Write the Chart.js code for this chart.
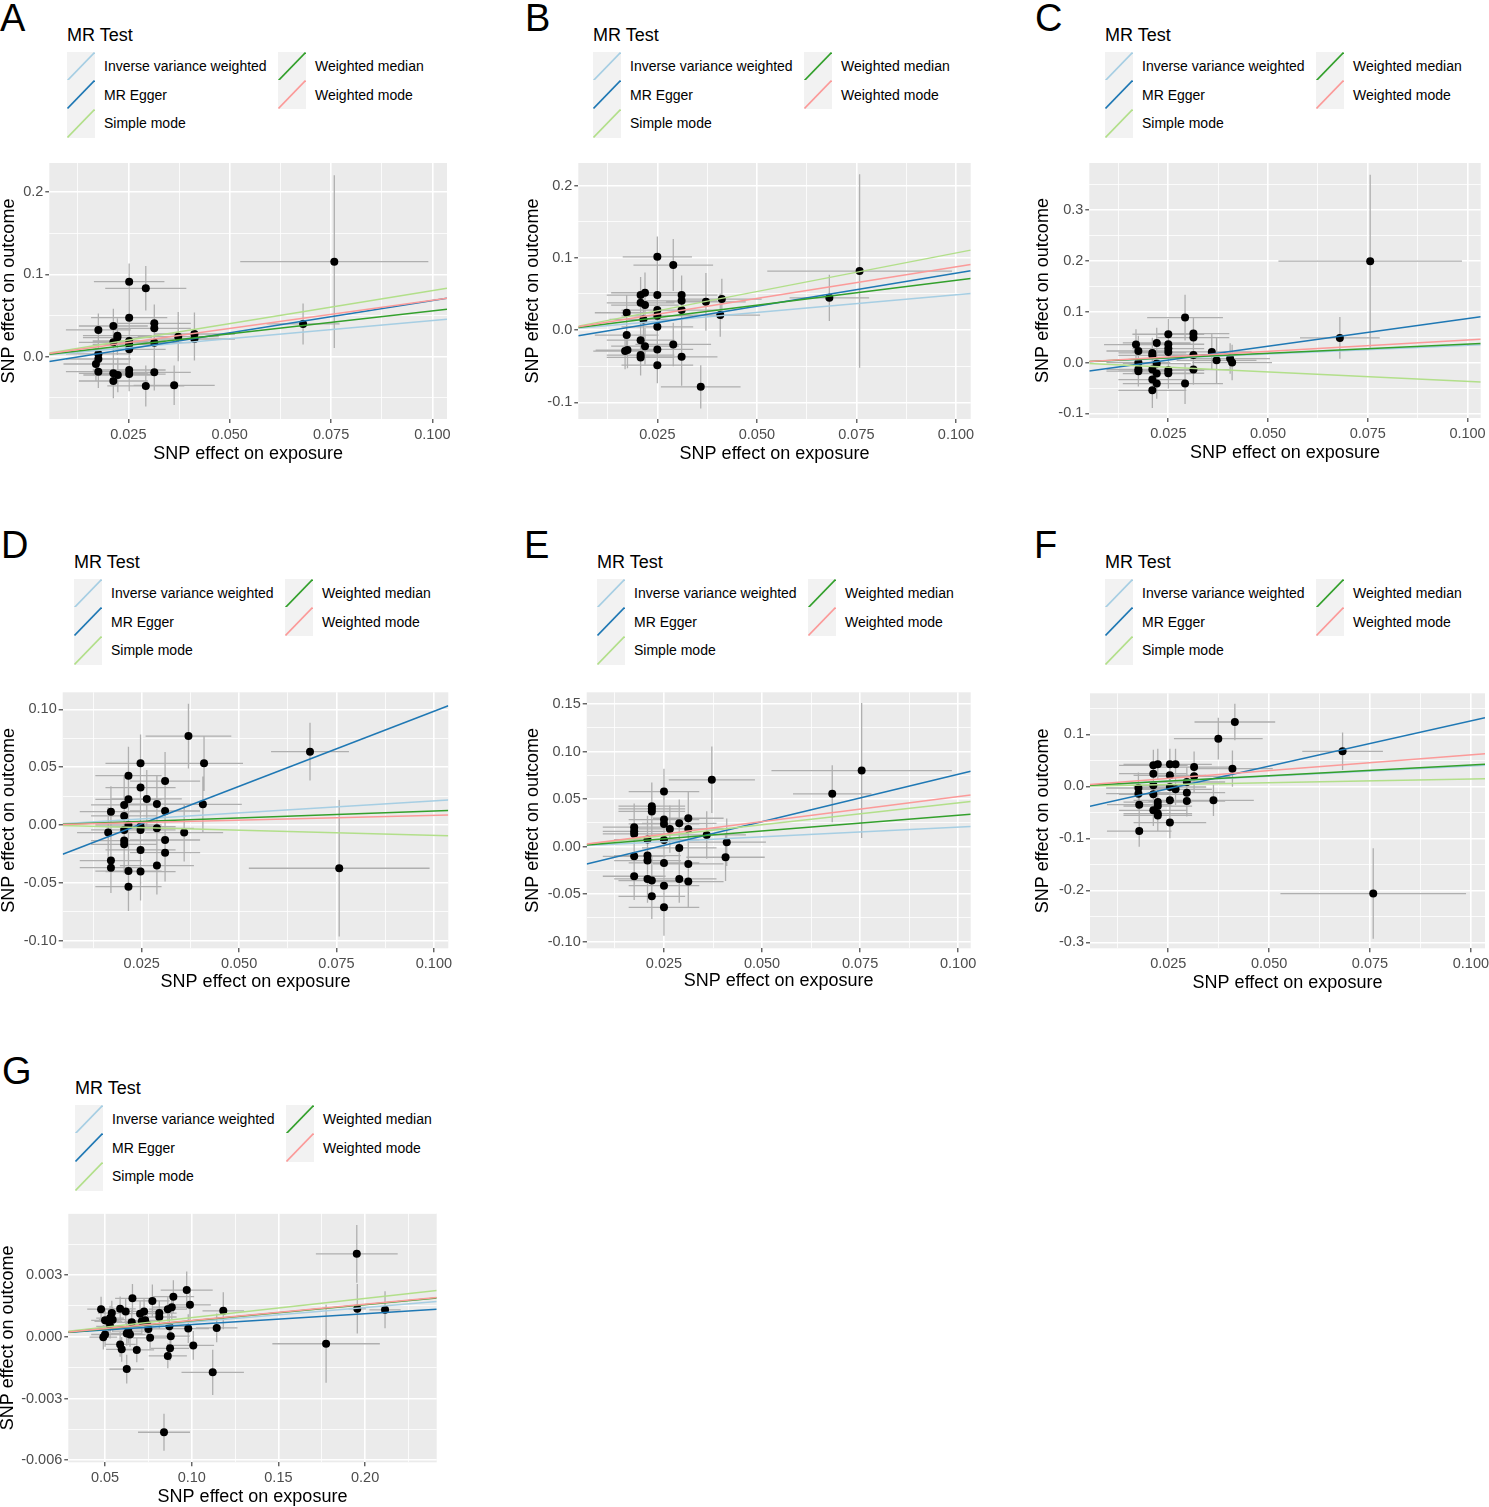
<!DOCTYPE html>
<html>
<head>
<meta charset="utf-8">
<title>MR scatter plots</title>
<script src="https://cdn.jsdelivr.net/npm/chart.js@4.4.1/dist/chart.umd.min.js"></script>
<style>
  html, body { margin: 0; padding: 0; background: #fff; overflow: hidden; }
  body { position: relative; width: 1489px; height: 1507px; font-family: "Liberation Sans", Arial, sans-serif; }
  .panel-letter { position: absolute; font-size: 38px; line-height: 38px; color: #000; }
  .lg-title { position: absolute; font-size: 18px; line-height: 20px; color: #000; white-space: nowrap; }
  .lg-key { position: absolute; width: 28px; height: 29px; background: #f2f2f2; }
  .lg-key svg { display: block; }
  .lg-text { position: absolute; font-size: 14px; line-height: 16px; color: #000; white-space: nowrap; }
  .chart-box { position: absolute; }
</style>
</head>
<body>
<script>
"use strict";

// MR methods, in legend order
const methodNames = ["Inverse variance weighted", "MR Egger", "Simple mode", "Weighted median", "Weighted mode"];
const methodColors = ["#a6cee3", "#1f78b4", "#b2df8a", "#33a02c", "#fb9a99"];

// x axis ticks (panels A-F share the exposure)
const exposureTicks = [0.025, 0.05, 0.075, 0.1];
const exposureTickLabels = ["0.025", "0.050", "0.075", "0.100"];
const panelGExposureTicks = [0.05, 0.1, 0.15, 0.2];
const panelGExposureTickLabels = ["0.05", "0.10", "0.15", "0.20"];

// y axis ticks per panel
const panelAOutcomeTicks = [0, 0.1, 0.2];
const panelAOutcomeTickLabels = ["0.0", "0.1", "0.2"];
const panelBOutcomeTicks = [-0.1, 0, 0.1, 0.2];
const panelBOutcomeTickLabels = ["-0.1", "0.0", "0.1", "0.2"];
const panelCOutcomeTicks = [-0.1, 0, 0.1, 0.2, 0.3];
const panelCOutcomeTickLabels = ["-0.1", "0.0", "0.1", "0.2", "0.3"];
const panelDOutcomeTicks = [-0.1, -0.05, 0, 0.05, 0.1];
const panelDOutcomeTickLabels = ["-0.10", "-0.05", "0.00", "0.05", "0.10"];
const panelEOutcomeTicks = [-0.1, -0.05, 0, 0.05, 0.1, 0.15];
const panelEOutcomeTickLabels = ["-0.10", "-0.05", "0.00", "0.05", "0.10", "0.15"];
const panelFOutcomeTicks = [-0.3, -0.2, -0.1, 0, 0.1];
const panelFOutcomeTickLabels = ["-0.3", "-0.2", "-0.1", "0.0", "0.1"];
const panelGOutcomeTicks = [-0.006, -0.003, 0, 0.003];
const panelGOutcomeTickLabels = ["-0.006", "-0.003", "0.000", "0.003"];

// SNPs: [beta exposure, beta outcome, se exposure, se outcome]
const panelASnps = [
  [0.0252, 0.0912, 0.0087, 0.022], [0.0293, 0.0832, 0.0100, 0.027], [0.0252, 0.0474, 0.0094, 0.022],
  [0.0314, 0.0406, 0.0090, 0.023], [0.0314, 0.0345, 0.0090, 0.023], [0.0176, 0.0325, 0.0080, 0.020],
  [0.0213, 0.0373, 0.0085, 0.021], [0.0223, 0.0256, 0.0085, 0.021], [0.0223, 0.0232, 0.0085, 0.021],
  [0.0213, 0.0175, 0.0085, 0.020], [0.0252, 0.0191, 0.0090, 0.021], [0.0252, 0.0150, 0.0090, 0.021],
  [0.0252, 0.0090, 0.0090, 0.021], [0.0314, 0.0170, 0.0090, 0.022], [0.0373, 0.0243, 0.0100, 0.030],
  [0.0413, 0.0276, 0.0100, 0.026], [0.0413, 0.0215, 0.0100, 0.026], [0.0176, 0.0033, 0.0080, 0.020],
  [0.0176, -0.0028, 0.0080, 0.020], [0.0170, -0.0089, 0.0080, 0.020], [0.0176, -0.0182, 0.0080, 0.020],
  [0.0213, -0.0202, 0.0085, 0.021], [0.0224, -0.0223, 0.0085, 0.021], [0.0213, -0.0296, 0.0085, 0.021],
  [0.0252, -0.0162, 0.0090, 0.021], [0.0252, -0.0211, 0.0090, 0.021], [0.0314, -0.0190, 0.0090, 0.022],
  [0.0293, -0.0356, 0.0095, 0.025], [0.0363, -0.0348, 0.0100, 0.024], [0.0681, 0.0398, 0.0090, 0.025],
  [0.0758, 0.1156, 0.0232, 0.105]
];
const panelBSnps = [
  [0.0250, 0.1015, 0.0087, 0.028], [0.0290, 0.0900, 0.0100, 0.036], [0.0208, 0.0485, 0.0085, 0.025],
  [0.0219, 0.0517, 0.0085, 0.028], [0.0250, 0.0485, 0.0090, 0.027], [0.0311, 0.0485, 0.0090, 0.027],
  [0.0311, 0.0406, 0.0090, 0.027], [0.0208, 0.0378, 0.0085, 0.025], [0.0219, 0.0346, 0.0085, 0.025],
  [0.0173, 0.0240, 0.0080, 0.025], [0.0250, 0.0277, 0.0090, 0.025], [0.0250, 0.0198, 0.0090, 0.025],
  [0.0311, 0.0277, 0.0090, 0.028], [0.0372, 0.0392, 0.0100, 0.040], [0.0412, 0.0430, 0.0100, 0.028],
  [0.0408, 0.0208, 0.0100, 0.030], [0.0215, 0.0148, 0.0085, 0.025], [0.0250, 0.0046, 0.0090, 0.025],
  [0.0173, -0.0069, 0.0080, 0.025], [0.0208, -0.0139, 0.0085, 0.025], [0.0219, -0.0222, 0.0085, 0.025],
  [0.0290, -0.0199, 0.0095, 0.030], [0.0250, -0.0268, 0.0090, 0.025], [0.0169, -0.0291, 0.0080, 0.025],
  [0.0175, -0.0277, 0.0080, 0.025], [0.0208, -0.0346, 0.0085, 0.025], [0.0208, -0.0379, 0.0085, 0.025],
  [0.0311, -0.0370, 0.0090, 0.040], [0.0250, -0.0485, 0.0090, 0.025], [0.0359, -0.0785, 0.0100, 0.030],
  [0.0682, 0.0447, 0.0100, 0.032], [0.0758, 0.0817, 0.0232, 0.134]
];
const panelCSnps = [
  [0.0292, 0.0886, 0.0095, 0.045], [0.0313, 0.0571, 0.0090, 0.030], [0.0313, 0.0492, 0.0090, 0.030],
  [0.0250, 0.0557, 0.0090, 0.030], [0.0250, 0.0360, 0.0090, 0.030], [0.0250, 0.0276, 0.0090, 0.030],
  [0.0250, 0.0210, 0.0090, 0.030], [0.0221, 0.0386, 0.0085, 0.030], [0.0169, 0.0354, 0.0080, 0.030],
  [0.0175, 0.0228, 0.0080, 0.030], [0.0210, 0.0189, 0.0085, 0.030], [0.0210, 0.0143, 0.0085, 0.030],
  [0.0359, 0.0209, 0.0100, 0.035], [0.0371, 0.0045, 0.0100, 0.045], [0.0410, 0.0000, 0.0100, 0.035],
  [0.0405, 0.0079, 0.0100, 0.030], [0.0175, 0.0000, 0.0080, 0.030], [0.0175, -0.0132, 0.0080, 0.030],
  [0.0175, -0.0170, 0.0080, 0.030], [0.0221, -0.0020, 0.0085, 0.030], [0.0210, -0.0138, 0.0085, 0.030],
  [0.0250, -0.0152, 0.0090, 0.030], [0.0250, -0.0210, 0.0090, 0.030], [0.0313, -0.0138, 0.0090, 0.030],
  [0.0313, 0.0150, 0.0090, 0.030], [0.0221, -0.0217, 0.0085, 0.030], [0.0210, -0.0335, 0.0085, 0.030],
  [0.0221, -0.0413, 0.0085, 0.030], [0.0292, -0.0413, 0.0095, 0.040], [0.0210, -0.0545, 0.0085, 0.035],
  [0.0680, 0.0484, 0.0100, 0.041], [0.0756, 0.1994, 0.0230, 0.170]
];
const panelDSnps = [
  [0.0370, 0.0769, 0.0110, 0.028], [0.0410, 0.0533, 0.0100, 0.024], [0.0247, 0.0533, 0.0090, 0.025],
  [0.0216, 0.0426, 0.0085, 0.025], [0.0310, 0.0380, 0.0090, 0.025], [0.0247, 0.0323, 0.0090, 0.025],
  [0.0216, 0.0222, 0.0085, 0.025], [0.0263, 0.0225, 0.0090, 0.025], [0.0205, 0.0173, 0.0085, 0.025],
  [0.0289, 0.0181, 0.0095, 0.025], [0.0171, 0.0115, 0.0080, 0.022], [0.0310, 0.0121, 0.0090, 0.025],
  [0.0205, 0.0078, 0.0085, 0.025], [0.0407, 0.0179, 0.0100, 0.024], [0.0216, 0.0000, 0.0085, 0.025],
  [0.0205, -0.0043, 0.0085, 0.025], [0.0247, -0.0014, 0.0090, 0.025], [0.0247, -0.0043, 0.0090, 0.025],
  [0.0289, -0.0029, 0.0095, 0.025], [0.0164, -0.0066, 0.0080, 0.022], [0.0359, -0.0066, 0.0100, 0.025],
  [0.0205, -0.0135, 0.0085, 0.025], [0.0205, -0.0167, 0.0085, 0.025], [0.0247, -0.0216, 0.0090, 0.025],
  [0.0310, -0.0130, 0.0090, 0.025], [0.0310, -0.0239, 0.0090, 0.025], [0.0171, -0.0308, 0.0080, 0.025],
  [0.0171, -0.0369, 0.0080, 0.022], [0.0289, -0.0351, 0.0095, 0.025], [0.0216, -0.0398, 0.0085, 0.025],
  [0.0247, -0.0403, 0.0090, 0.025], [0.0216, -0.0533, 0.0085, 0.021], [0.0682, 0.0634, 0.0100, 0.025],
  [0.0757, -0.0374, 0.0232, 0.059]
];
const panelESnps = [
  [0.0372, 0.0702, 0.0110, 0.035], [0.0250, 0.0579, 0.0090, 0.024], [0.0219, 0.0425, 0.0085, 0.025],
  [0.0219, 0.0397, 0.0085, 0.025], [0.0219, 0.0370, 0.0085, 0.025], [0.0250, 0.0284, 0.0090, 0.025],
  [0.0250, 0.0238, 0.0090, 0.025], [0.0265, 0.0186, 0.0090, 0.025], [0.0289, 0.0245, 0.0095, 0.025],
  [0.0312, 0.0298, 0.0090, 0.028], [0.0312, 0.0186, 0.0090, 0.025], [0.0174, 0.0204, 0.0080, 0.025],
  [0.0174, 0.0161, 0.0080, 0.025], [0.0174, 0.0133, 0.0080, 0.025], [0.0359, 0.0123, 0.0100, 0.025],
  [0.0208, 0.0074, 0.0085, 0.025], [0.0250, 0.0070, 0.0090, 0.025], [0.0410, 0.0046, 0.0100, 0.025],
  [0.0289, -0.0014, 0.0095, 0.025], [0.0174, -0.0102, 0.0080, 0.025], [0.0208, -0.0095, 0.0085, 0.025],
  [0.0208, -0.0147, 0.0085, 0.025], [0.0407, -0.0112, 0.0100, 0.025], [0.0250, -0.0172, 0.0090, 0.025],
  [0.0312, -0.0182, 0.0090, 0.025], [0.0174, -0.0312, 0.0080, 0.025], [0.0208, -0.0340, 0.0085, 0.025],
  [0.0219, -0.0358, 0.0085, 0.025], [0.0289, -0.0340, 0.0095, 0.025], [0.0312, -0.0368, 0.0090, 0.027],
  [0.0250, -0.0411, 0.0090, 0.025], [0.0219, -0.0523, 0.0085, 0.024], [0.0250, -0.0639, 0.0090, 0.030],
  [0.0679, 0.0555, 0.0100, 0.030], [0.0754, 0.0800, 0.0230, 0.071]
];
const panelFSnps = [
  [0.0415, 0.1237, 0.0100, 0.035], [0.0374, 0.0917, 0.0110, 0.040], [0.0409, 0.0340, 0.0100, 0.035],
  [0.0314, 0.0371, 0.0090, 0.030], [0.0254, 0.0423, 0.0090, 0.030], [0.0268, 0.0423, 0.0090, 0.030],
  [0.0224, 0.0423, 0.0085, 0.030], [0.0213, 0.0404, 0.0085, 0.030], [0.0213, 0.0244, 0.0085, 0.030],
  [0.0254, 0.0212, 0.0090, 0.030], [0.0314, 0.0192, 0.0090, 0.030], [0.0296, 0.0083, 0.0095, 0.030],
  [0.0176, -0.0032, 0.0080, 0.030], [0.0213, 0.0019, 0.0085, 0.030], [0.0254, -0.0013, 0.0090, 0.030],
  [0.0268, -0.0058, 0.0090, 0.030], [0.0296, -0.0122, 0.0095, 0.030], [0.0176, -0.0141, 0.0080, 0.030],
  [0.0213, -0.0154, 0.0085, 0.030], [0.0254, -0.0269, 0.0090, 0.030], [0.0296, -0.0282, 0.0095, 0.030],
  [0.0362, -0.0269, 0.0100, 0.030], [0.0178, -0.0352, 0.0080, 0.030], [0.0224, -0.0302, 0.0085, 0.030],
  [0.0224, -0.0380, 0.0085, 0.030], [0.0213, -0.0462, 0.0085, 0.030], [0.0224, -0.0525, 0.0085, 0.030],
  [0.0224, -0.0560, 0.0085, 0.030], [0.0254, -0.0698, 0.0090, 0.030], [0.0178, -0.0860, 0.0080, 0.030],
  [0.0682, 0.0673, 0.0100, 0.036], [0.0758, -0.2063, 0.0230, 0.087]
];
const panelGSnps = [
  [0.0971, 0.00227, 0.0150, 0.0009], [0.0658, 0.00187, 0.0100, 0.0007], [0.0894, 0.00195, 0.0120, 0.0008],
  [0.0773, 0.00174, 0.0100, 0.0008], [0.0990, 0.00155, 0.0120, 0.0008], [0.1182, 0.00126, 0.0120, 0.0009],
  [0.0477, 0.00134, 0.0080, 0.0006], [0.0587, 0.00136, 0.0090, 0.0006], [0.0619, 0.00123, 0.0090, 0.0006],
  [0.0725, 0.00123, 0.0100, 0.0006], [0.0702, 0.00112, 0.0100, 0.0006], [0.0813, 0.00115, 0.0100, 0.0006],
  [0.0813, 0.00096, 0.0100, 0.0006], [0.0862, 0.00134, 0.0110, 0.0006], [0.0885, 0.00144, 0.0110, 0.0006],
  [0.0539, 0.00115, 0.0080, 0.0006], [0.0529, 0.00091, 0.0080, 0.0006], [0.0500, 0.00080, 0.0080, 0.0006],
  [0.0519, 0.00075, 0.0080, 0.0006], [0.0544, 0.00083, 0.0080, 0.0006], [0.0654, 0.00070, 0.0090, 0.0006],
  [0.0731, 0.00080, 0.0100, 0.0006], [0.0712, 0.00075, 0.0100, 0.0006], [0.0744, 0.00059, 0.0100, 0.0006],
  [0.0529, 0.00051, 0.0080, 0.0006], [0.0634, 0.00027, 0.0090, 0.0006], [0.0750, 0.00038, 0.0100, 0.0006],
  [0.0871, 0.00051, 0.0110, 0.0006], [0.0980, 0.00040, 0.0120, 0.0007], [0.1144, 0.00043, 0.0120, 0.0007],
  [0.0490, -0.00002, 0.0080, 0.0006], [0.0500, 0.00011, 0.0080, 0.0006], [0.0625, 0.00016, 0.0090, 0.0006],
  [0.0644, 0.00011, 0.0090, 0.0006], [0.0760, -0.00005, 0.0100, 0.0006], [0.0879, 0.00003, 0.0110, 0.0006],
  [0.0587, -0.00037, 0.0090, 0.0006], [0.0596, -0.00061, 0.0090, 0.0006], [0.0683, -0.00064, 0.0100, 0.0006],
  [0.0875, -0.00056, 0.0110, 0.0006], [0.1009, -0.00042, 0.0120, 0.0007], [0.0862, -0.00093, 0.0110, 0.0006],
  [0.0625, -0.00157, 0.0100, 0.0007], [0.1121, -0.00173, 0.0180, 0.0011], [0.0840, -0.00464, 0.0150, 0.0009],
  [0.1952, 0.00403, 0.0236, 0.0014], [0.1775, -0.00034, 0.0310, 0.0019], [0.1955, 0.00136, 0.0050, 0.0012],
  [0.2115, 0.00131, 0.0090, 0.0009]
];

// fitted lines, in methodNames order (only MR Egger has an intercept)
const panelASlopes = [0.439, 0.785, 0.803, 0.557, 0.686];
const panelAIntercepts = [0, -0.0103, 0, 0, 0];
const panelBSlopes = [0.49, 0.914, 1.068, 0.69, 0.877];
const panelBIntercepts = [0, -0.0126, 0, 0, 0];
const panelCSlopes = [0.34, 1.084, -0.37, 0.362, 0.444];
const panelCIntercepts = [0, -0.022, 0, 0, 0];
const panelDSlopes = [0.208, 1.297, -0.089, 0.12, 0.083];
const panelDIntercepts = [0, -0.0314, 0, 0, 0];
const panelESlopes = [0.204, 0.996, 0.459, 0.329, 0.527];
const panelEIntercepts = [0, -0.0235, 0, 0, 0];
const panelFSlopes = [0.39, 1.743, 0.142, 0.409, 0.607];
const panelFIntercepts = [0, -0.0483, 0, 0, 0];
const panelGSlopes = [0.0071, 0.00527, 0.0093, 0.0078, 0.0079];
const panelGIntercepts = [0, 0.00007, 0, 0, 0];

Chart.defaults.font.family = '"Liberation Sans", Arial, sans-serif';

// layout: box = canvas [left, top, right, bottom], plot = panel area [left, top, right, bottom]
const panels = [
  { letter: "A", snps: panelASnps, slopes: panelASlopes, intercepts: panelAIntercepts,
    xTicks: exposureTicks, xLabels: exposureTickLabels, yTicks: panelAOutcomeTicks, yLabels: panelAOutcomeTickLabels,
    xRange: [0.0055, 0.1036], yRange: [-0.0758, 0.2356],
    box: [-2, 150, 470, 465], plot: [49.3, 163, 447, 419], letterAt: [0, -1], legendAt: [67, 35] },
  { letter: "B", snps: panelBSnps, slopes: panelBSlopes, intercepts: panelBIntercepts,
    xTicks: exposureTicks, xLabels: exposureTickLabels, yTicks: panelBOutcomeTicks, yLabels: panelBOutcomeTickLabels,
    xRange: [0.00515, 0.1037], yRange: [-0.1231, 0.2314],
    box: [522, 150, 990, 465], plot: [578.3, 163, 970.7, 419], letterAt: [525, -1], legendAt: [593, 35] },
  { letter: "C", snps: panelCSnps, slopes: panelCSlopes, intercepts: panelCIntercepts,
    xTicks: exposureTicks, xLabels: exposureTickLabels, yTicks: panelCOutcomeTicks, yLabels: panelCOutcomeTickLabels,
    xRange: [0.0052, 0.1033], yRange: [-0.109, 0.3925],
    box: [1032, 150, 1500, 464], plot: [1089.3, 163, 1480.7, 418], letterAt: [1035, -1], legendAt: [1105, 35] },
  { letter: "D", snps: panelDSnps, slopes: panelDSlopes, intercepts: panelDIntercepts,
    xTicks: exposureTicks, xLabels: exposureTickLabels, yTicks: panelDOutcomeTicks, yLabels: panelDOutcomeTickLabels,
    xRange: [0.00472, 0.1037], yRange: [-0.1066, 0.1147],
    box: [-2, 679, 470, 993], plot: [62.7, 692.3, 448.3, 948.3], letterAt: [1, 526], legendAt: [74, 562] },
  { letter: "E", snps: panelESnps, slopes: panelESlopes, intercepts: panelEIntercepts,
    xTicks: exposureTicks, xLabels: exposureTickLabels, yTicks: panelEOutcomeTicks, yLabels: panelEOutcomeTickLabels,
    xRange: [0.0053, 0.1032], yRange: [-0.107, 0.1623],
    box: [522, 679, 990, 992], plot: [586.7, 692.3, 970.7, 948.3], letterAt: [524, 526], legendAt: [597, 562] },
  { letter: "F", snps: panelFSnps, slopes: panelFSlopes, intercepts: panelFIntercepts,
    xTicks: exposureTicks, xLabels: exposureTickLabels, yTicks: panelFOutcomeTicks, yLabels: panelFOutcomeTickLabels,
    xRange: [0.0056, 0.1035], yRange: [-0.3115, 0.1789],
    box: [1032, 680, 1500, 994], plot: [1090, 693.3, 1485, 948.3], letterAt: [1034, 526], legendAt: [1105, 562] },
  { letter: "G", snps: panelGSnps, slopes: panelGSlopes, intercepts: panelGIntercepts,
    xTicks: panelGExposureTicks, xLabels: panelGExposureTickLabels, yTicks: panelGOutcomeTicks, yLabels: panelGOutcomeTickLabels,
    xRange: [0.0288, 0.2413], yRange: [-0.0061, 0.0060],
    box: [-3, 1200, 460, 1508], plot: [68.3, 1213.3, 436.7, 1462.3], letterAt: [2, 1052], legendAt: [75, 1088] }
];

// grey panel background like ggplot's theme_grey
const panelBackground = {
  id: "panelBackground",
  beforeDraw(chart) {
    const { ctx, chartArea } = chart;
    ctx.save();
    ctx.fillStyle = "#ebebeb";
    ctx.fillRect(chartArea.left, chartArea.top, chartArea.right - chartArea.left, chartArea.bottom - chartArea.top);
    ctx.restore();
  }
};

function addDiv(className, text, left, top) {
  const el = document.createElement("div");
  el.className = className;
  if (text) el.textContent = text;
  el.style.left = left + "px";
  el.style.top = top + "px";
  document.body.appendChild(el);
  return el;
}

function addLegend(x, titleY) {
  addDiv("lg-title", "MR Test", x, titleY - 10);
  methodNames.forEach((name, i) => {
    const col = i < 3 ? 0 : 1;
    const row = i < 3 ? i : i - 3;
    const keyX = x + col * 211;
    const rowY = titleY + 31 + row * 28.5;
    const key = addDiv("lg-key", "", keyX, rowY - 14.5);
    key.innerHTML = '<svg width="28" height="29"><line x1="0.5" y1="28.5" x2="27.5" y2="0.5" stroke="' +
      methodColors[i] + '" stroke-width="1.6"/></svg>';
    addDiv("lg-text", name, keyX + 37, rowY - 8);
  });
}

// major ticks plus ggplot-style minor ticks halfway between them
function buildTicks(major, min, max) {
  const half = (major[1] - major[0]) / 2;
  const start = major[0] - Math.floor((major[0] - min) / half) * half;
  const ticks = [];
  for (let k = 0; start + k * half <= max + 1e-12; k++) {
    const v = start + k * half;
    const isMain = major.some((m) => Math.abs(m - v) < half * 1e-3);
    ticks.push({ value: v, isMain: isMain });
  }
  return ticks;
}

function axisOptions(range, major, labels, size, title, isX) {
  return {
    type: "linear",
    min: range[0],
    max: range[1],
    afterFit(scale) {
      if (isX) scale.height = size;
      else scale.width = size;
    },
    afterBuildTicks(scale) {
      scale.ticks = buildTicks(major, range[0], range[1]);
    },
    ticks: {
      autoSkip: false,
      maxRotation: 0,
      minRotation: 0,
      color: "#4d4d4d",
      font: { size: 14.5 },
      padding: isX ? 3 : 2,
      callback(value, index, ticks) {
        if (!ticks[index].isMain) return "";
        const at = major.findIndex((m) => Math.abs(m - value) < 1e-9);
        return at >= 0 ? labels[at] : "";
      }
    },
    grid: {
      color: "#ffffff",
      lineWidth: (ctx) => (ctx.tick && ctx.tick.isMain ? 1.6 : 0.8),
      tickColor: (ctx) => (ctx.tick && ctx.tick.isMain ? "#333333" : "rgba(0,0,0,0)"),
      tickLength: 4,
      tickWidth: 1.1
    },
    border: { display: false },
    title: {
      display: true,
      text: title,
      color: "#000000",
      font: { size: 18 },
      padding: { top: 0, bottom: 0 }
    }
  };
}

function makePanel(p) {
  addDiv("panel-letter", p.letter, p.letterAt[0], p.letterAt[1]);
  addLegend(p.legendAt[0], p.legendAt[1]);

  const [bl, bt, br, bb] = p.box;
  const [pl, pt, pr, pb] = p.plot;
  const width = br - bl;
  const height = bb - bt;

  const holder = addDiv("chart-box", "", bl, bt);
  holder.style.width = width + "px";
  holder.style.height = height + "px";
  const canvas = document.createElement("canvas");
  canvas.width = width;
  canvas.height = height;
  canvas.style.width = width + "px";
  canvas.style.height = height + "px";
  holder.appendChild(canvas);

  // error bars: vertical and horizontal segments separated by gaps
  const bars = [];
  p.snps.forEach(([bx, by, sx, sy]) => {
    bars.push({ x: bx, y: by - sy }, { x: bx, y: by + sy }, { x: bx, y: null });
    bars.push({ x: bx - sx, y: by }, { x: bx + sx, y: by }, { x: bx, y: null });
  });

  const datasets = [
    {
      type: "scatter",
      data: bars,
      showLine: true,
      spanGaps: false,
      borderColor: "#afafaf",
      borderWidth: 1.3,
      pointRadius: 0,
      fill: false,
      order: 10
    },
    {
      type: "scatter",
      data: p.snps.map(([bx, by]) => ({ x: bx, y: by })),
      backgroundColor: "#000000",
      borderWidth: 0,
      pointRadius: 4,
      order: 9
    }
  ];

  methodNames.forEach((name, i) => {
    const b = p.slopes[i];
    const a = p.intercepts[i];
    datasets.push({
      type: "scatter",
      label: name,
      data: [
        { x: p.xRange[0], y: a + b * p.xRange[0] },
        { x: p.xRange[1], y: a + b * p.xRange[1] }
      ],
      showLine: true,
      borderColor: methodColors[i],
      borderWidth: 1.5,
      pointRadius: 0,
      fill: false,
      order: 5 - i
    });
  });

  new Chart(canvas, {
    type: "scatter",
    data: { datasets },
    options: {
      responsive: false,
      animation: false,
      events: [],
      layout: { padding: { left: 0, top: pt - bt, right: br - pr, bottom: 0 } },
      plugins: { legend: { display: false }, tooltip: { enabled: false } },
      scales: {
        x: axisOptions(p.xRange, p.xTicks, p.xLabels, bb - pb, "SNP effect on exposure", true),
        y: axisOptions(p.yRange, p.yTicks, p.yLabels, pl - bl, "SNP effect on outcome", false)
      }
    },
    plugins: [panelBackground]
  });
}

panels.forEach(makePanel);
</script>
</body>
</html>
